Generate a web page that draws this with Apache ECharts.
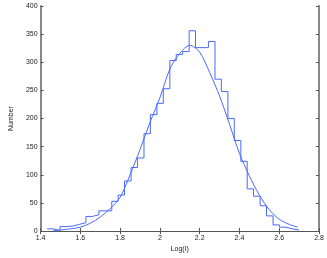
<!DOCTYPE html>
<html>
<head>
<meta charset="utf-8">
<script src="https://cdn.jsdelivr.net/npm/echarts@6/dist/echarts.min.js"></script>
<style>
  html, body { margin: 0; padding: 0; background: #fff; }
  #main { width: 327px; height: 258px; }
</style>
</head>
<body>
<div id="main"></div>
<script>
  // histogram bin edges (Log(I)) and counts per bin
  var binEdges = [1.433, 1.465, 1.498, 1.530, 1.563, 1.595, 1.628, 1.660, 1.693, 1.725,
                  1.758, 1.790, 1.822, 1.855, 1.887, 1.920, 1.952, 1.985, 2.017, 2.050,
                  2.082, 2.114, 2.147, 2.179, 2.212, 2.244, 2.277, 2.309, 2.342, 2.374,
                  2.407, 2.439, 2.471, 2.504, 2.536, 2.569, 2.601, 2.634, 2.666, 2.699];
  var binCounts = [4, 1, 8, 9, 12, 15, 26, 29, 36, 36,
                   53, 64, 89, 113, 130, 173, 207, 227, 253, 303,
                   314, 319, 356, 326, 326, 337, 270, 248, 200, 161,
                   124, 75, 62, 45, 27, 11, 7, 4, 2];

  // fitted curve
  var fitX = [1.463, 1.50, 1.55, 1.60, 1.65, 1.70, 1.75, 1.80, 1.85, 1.90,
              1.95, 2.00, 2.05, 2.10, 2.15, 2.20, 2.25, 2.30, 2.35, 2.40,
              2.45, 2.50, 2.55, 2.60, 2.65, 2.694];
  var fitY = [1, 2, 4, 7, 14, 25, 40, 60, 100, 145,
              193, 237, 288, 316, 330, 318, 282, 240, 190, 138,
              98, 64, 38, 21, 12, 7];

  var xTicks = [1.4, 2.8, 0.2];   // min, max, step
  var yTicks = [0, 400, 50];

  var histData = [];
  for (var i = 0; i < binCounts.length; i++) {
    histData.push([binEdges[i], binCounts[i]]);
  }
  histData.push([binEdges[binEdges.length - 1], binCounts[binCounts.length - 1]]);

  var fitData = fitX.map(function (x, i) { return [x, fitY[i]]; });

  var chart = echarts.init(document.getElementById('main'), null, { renderer: 'canvas' });
  var font = 'Liberation Sans';
  var lineBlue = '#4a68ff';

  var option = {
    animation: false,
    textStyle: { fontFamily: font },
    grid: { left: 25, right: 8, top: 6, bottom: 19 },
    xAxis: [{
      type: 'value', min: xTicks[0], max: xTicks[1], interval: xTicks[2],
      name: 'Log(I)', nameLocation: 'middle', nameGap: 11,
      nameTextStyle: { fontSize: 7, color: '#222', fontFamily: font },
      axisLine: { lineStyle: { color: '#555', width: 1 } },
      axisTick: { inside: true, length: 3, lineStyle: { color: '#555' } },
      axisLabel: { fontSize: 7, color: '#222', margin: 3, fontFamily: font,
                   formatter: function (v) { return String(+v.toFixed(1)); } },
      splitLine: { show: false }
    }, {
      type: 'value', position: 'top', min: xTicks[0], max: xTicks[1], interval: xTicks[2],
      axisLine: { lineStyle: { color: '#555', width: 1 } },
      axisTick: { inside: true, length: 3, lineStyle: { color: '#555' } },
      axisLabel: { show: false },
      splitLine: { show: false }
    }],
    yAxis: [{
      type: 'value', min: yTicks[0], max: yTicks[1], interval: yTicks[2],
      name: 'Number', nameLocation: 'middle', nameGap: 16, nameRotate: 90,
      nameTextStyle: { fontSize: 7, color: '#222', fontFamily: font },
      axisLine: { show: true, lineStyle: { color: '#888', width: 2 } },
      axisTick: { show: true, inside: true, length: 3, lineStyle: { color: '#555' } },
      axisLabel: { fontSize: 7, color: '#222', margin: 3, fontFamily: font },
      splitLine: { show: false }
    }, {
      type: 'value', position: 'right', min: yTicks[0], max: yTicks[1], interval: yTicks[2],
      axisLine: { show: true, lineStyle: { color: '#888', width: 2 } },
      axisTick: { show: true, inside: true, length: 3, lineStyle: { color: '#555' } },
      axisLabel: { show: false },
      splitLine: { show: false }
    }],
    series: [{
      type: 'line',
      name: 'hist',
      step: 'end',
      data: histData,
      showSymbol: false,
      lineStyle: { color: lineBlue, width: 1 },
      itemStyle: { color: lineBlue }
    }, {
      type: 'line',
      name: 'fit',
      smooth: 0.3,
      data: fitData,
      showSymbol: false,
      lineStyle: { color: lineBlue, width: 1 },
      itemStyle: { color: lineBlue }
    }]
  };

  chart.setOption(option);
</script>
</body>
</html>
